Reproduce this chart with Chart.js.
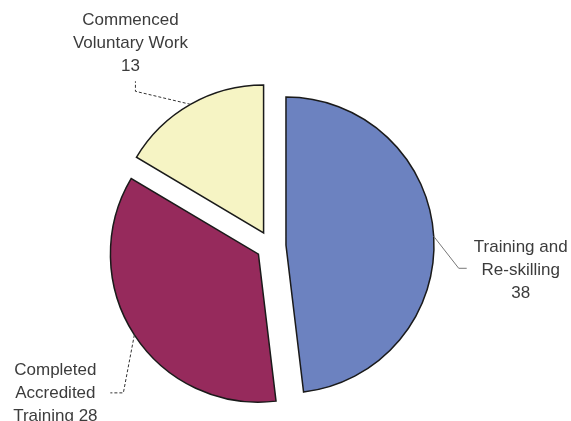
<!DOCTYPE html>
<html>
<head>
<meta charset="utf-8">
<script src="https://cdn.jsdelivr.net/npm/chart.js@4"></script>
<style>
    html, body { margin: 0; padding: 0; background: #fff; }
</style>
</head>
<body>
<canvas id="grafico" width="571" height="421"></canvas>
<script>
// dados do gráfico
const categorias = ['Training and Re-skilling', 'Completed Accredited Training', 'Commenced Voluntary Work'];
const valores = [38, 28, 13];
// quebras de linha dos rótulos (o valor vai numa linha própria ou no fim da última)
const linhasRotulo = [['Training and', 'Re-skilling'], ['Completed', 'Accredited', 'Training'], ['Commenced', 'Voluntary Work']];
const valorMesmaLinha = [false, true, false];

const cores = ['#6c82c0', '#962a5c', '#f6f4c4'];
const separacao = 15; // quanto cada fatia sai do centro

// posição dos rótulos relativa ao ponto da fatia (cotovelo, fim da linha, texto)
const chamadas = [
    { cotovelo: [25, 32], fim: [33, 32], texto: [87, 11] },
    { cotovelo: [-11, 58], fim: [-24, 58], texto: [-79, 35] },
    { cotovelo: [-55, -13], fim: [-55, -23], texto: [-60, -84] }
];

// afasta as fatias do centro pelo ângulo do meio (o offset do Chart.js muda também o raio)
const pluginSeparar = {
    id: 'separar',
    afterDatasetsUpdate(chart) {
        const meta = chart.getDatasetMeta(0);
        const cx = (chart.chartArea.left + chart.chartArea.right) / 2;
        const cy = (chart.chartArea.top + chart.chartArea.bottom) / 2;
        meta.data.forEach(arco => {
            const meio = (arco.startAngle + arco.endAngle) / 2;
            arco.x = cx + Math.cos(meio) * separacao;
            arco.y = cy + Math.sin(meio) * separacao;
        });
    }
};

const pluginRotulos = {
    id: 'rotulos',
    afterDraw(chart) {
        const ctx = chart.ctx;
        const meta = chart.getDatasetMeta(0);
        meta.data.forEach((arco, i) => {
            const meio = (arco.startAngle + arco.endAngle) / 2;
            const px = arco.x + Math.cos(meio) * arco.outerRadius;
            const py = arco.y + Math.sin(meio) * arco.outerRadius;
            const c = chamadas[i];

            ctx.save();
            ctx.strokeStyle = i === 0 ? '#777' : '#333';
            ctx.lineWidth = 1;
            ctx.setLineDash(i === 0 ? [] : [3, 2]);
            ctx.beginPath();
            ctx.moveTo(px, py);
            ctx.lineTo(px + c.cotovelo[0], py + c.cotovelo[1]);
            ctx.lineTo(px + c.fim[0], py + c.fim[1]);
            ctx.stroke();
            ctx.setLineDash([]);

            const linhas = linhasRotulo[i].slice();
            if (valorMesmaLinha[i]) {
                linhas[linhas.length - 1] += ' ' + valores[i];
            } else {
                linhas.push(String(valores[i]));
            }
            ctx.fillStyle = '#3c3c3c';
            ctx.font = '17px "Liberation Sans", Arial, sans-serif';
            ctx.textAlign = 'center';
            ctx.textBaseline = 'middle';
            linhas.forEach((t, k) => {
                ctx.fillText(t, px + c.texto[0], py + c.texto[1] + k * 23);
            });
            ctx.restore();
        });
    }
};

new Chart(document.getElementById('grafico'), {
    type: 'pie',
    data: {
        labels: categorias,
        datasets: [{
            data: valores,
            backgroundColor: cores,
            borderColor: '#1a1a1a',
            borderWidth: 1.5,
            borderJoinStyle: 'miter'
        }]
    },
    options: {
        responsive: false,
        animation: false,
        devicePixelRatio: 1,
        radius: 148,
        layout: { padding: { left: 0, right: 29, top: 71, bottom: 0 } },
        plugins: {
            legend: { display: false },
            tooltip: { enabled: false }
        }
    },
    plugins: [pluginSeparar, pluginRotulos]
});
</script>
</body>
</html>
